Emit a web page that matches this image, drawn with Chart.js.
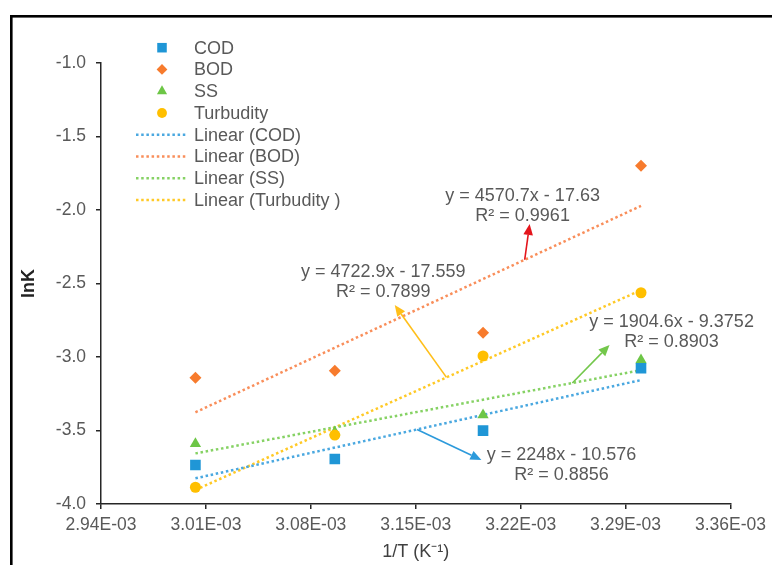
<!DOCTYPE html>
<html>
<head>
<meta charset="utf-8">
<script src="https://cdn.jsdelivr.net/npm/chart.js@4.4.0/dist/chart.umd.min.js"></script>
<style>
  html, body { margin: 0; padding: 0; background: #fff; }
  #wrap { width: 772px; height: 565px; }
</style>
</head>
<body>
<div id="wrap"><canvas id="grafico" width="772" height="565"></canvas></div>
<script>
// 1/T for 60, 50, 40 and 30 °C
var invT = [3.0030e-3, 3.0960e-3, 3.1949e-3, 3.3003e-3];

// lnK per parameter
var cod = [-3.735, -3.694, -3.501, -3.077];
var bod = [-3.141, -3.093, -2.835, -1.699];
var ss = [-3.590, -3.510, -3.395, -3.020];
var turbidity = [-3.886, -3.531, -2.993, -2.563];

var seriesNames = ["COD", "BOD", "SS", "Turbudity"];
var trendNames = ["Linear (COD)", "Linear (BOD)", "Linear (SS)", "Linear (Turbudity )"];

// linear trendlines y = a*x + b
var fitSlope = [2248, 4722.9, 1904.6, 4570.7];
var fitIntercept = [-10.576, -17.559, -9.3752, -17.63];

var xTickValues = [2.94e-3, 3.01e-3, 3.08e-3, 3.15e-3, 3.22e-3, 3.29e-3, 3.36e-3];
var xTickLabels = ["2.94E-03", "3.01E-03", "3.08E-03", "3.15E-03", "3.22E-03", "3.29E-03", "3.36E-03"];
var yTickValues = [-4.0, -3.5, -3.0, -2.5, -2.0, -1.5, -1.0];
var yTickLabels = ["-4.0", "-3.5", "-3.0", "-2.5", "-2.0", "-1.5", "-1.0"];

var markerColors = ["#1F96D6", "#F77B2D", "#6DC646", "#FFBF00"];
var trendColors = ["#4AA8E0", "#F98E5A", "#86D264", "#FFC926"];
var markerStyles = ["rect", "rectRot", "triangle", "circle"];
var markerSizes = [7.5, 6, 6.5, 5.5];
// SS sits underneath the other markers
var markerOrder = [0, 0, 1, 0];

// equation labels with their arrows (data coordinates)
var equations = [
  { lines: ["y = 2248x - 10.576", "R\u00b2 = 0.8856"], color: "#2C9ADB", fit: 0,
    fromX: 3.1509e-3, toX: 3.1938e-3, toY: -3.7007, textX: 3.2473e-3, textY: -3.6667 },
  { lines: ["y = 4570.7x - 17.63", "R\u00b2 = 0.9961"], color: "#E4151C", fit: 1,
    fromX: 3.2227e-3, toX: 3.2260e-3, toY: -2.0952, textX: 3.2213e-3, textY: -1.905 },
  { lines: ["y = 1904.6x - 9.3752", "R\u00b2 = 0.8903"], color: "#73C74B", fit: 2,
    fromX: 3.2545e-3, toX: 3.2793e-3, toY: -2.9184, textX: 3.3207e-3, textY: -2.7653 },
  { lines: ["y = 4722.9x - 17.559", "R\u00b2 = 0.7899"], color: "#FFBF1A", fit: 3,
    fromX: 3.1705e-3, toX: 3.1360e-3, toY: -2.6463, textX: 3.1283e-3, textY: -2.4238 }
];

var FONT = '"Liberation Sans", Arial, sans-serif';
var TEXT = "#595959";

function drawMarker(ctx, style, x, y, r, color) {
  ctx.fillStyle = color;
  ctx.beginPath();
  if (style === "rect") {
    var h = r * Math.SQRT1_2;
    ctx.rect(x - h, y - h, 2 * h, 2 * h);
  } else if (style === "rectRot") {
    ctx.moveTo(x, y - r); ctx.lineTo(x + r, y); ctx.lineTo(x, y + r); ctx.lineTo(x - r, y);
    ctx.closePath();
  } else if (style === "triangle") {
    ctx.moveTo(x, y - r);
    ctx.lineTo(x + r * Math.sin(Math.PI / 3), y + r / 2);
    ctx.lineTo(x - r * Math.sin(Math.PI / 3), y + r / 2);
    ctx.closePath();
  } else {
    ctx.arc(x, y, r, 0, Math.PI * 2);
  }
  ctx.fill();
}

document.addEventListener("DOMContentLoaded", function () {

  var allY = [cod, bod, ss, turbidity];
  var datasets = [];

  allY.forEach(function (vals, i) {
    datasets.push({
      label: seriesNames[i],
      data: invT.map(function (x, k) { return { x: x, y: vals[k] }; }),
      pointStyle: markerStyles[i],
      pointRadius: markerSizes[i],
      pointBackgroundColor: markerColors[i],
      pointBorderWidth: 0,
      showLine: false,
      order: markerOrder[i]
    });
  });

  allY.forEach(function (vals, i) {
    var x0 = invT[0], x1 = invT[invT.length - 1];
    datasets.push({
      label: trendNames[i],
      data: [
        { x: x0, y: fitSlope[i] * x0 + fitIntercept[i] },
        { x: x1, y: fitSlope[i] * x1 + fitIntercept[i] }
      ],
      showLine: true,
      pointRadius: 0,
      borderColor: trendColors[i],
      borderWidth: 2.5,
      borderDash: [2.5, 2.7],
      order: 5
    });
  });

  // outer frame of the figure
  var moldura = {
    id: "moldura",
    beforeDraw: function (chart) {
      var ctx = chart.ctx;
      ctx.save();
      ctx.fillStyle = "#fff";
      ctx.fillRect(0, 0, chart.width, chart.height);
      ctx.strokeStyle = "#000";
      ctx.lineWidth = 2.6;
      ctx.strokeRect(11.3, 16.3, chart.width + 40, chart.height + 40);
      ctx.restore();
    }
  };

  var legenda = {
    id: "legenda",
    afterDraw: function (chart) {
      var ctx = chart.ctx;
      ctx.save();
      ctx.font = "18px " + FONT;
      ctx.textBaseline = "middle";
      var y0 = 47.7, dy = 21.75;
      seriesNames.forEach(function (name, i) {
        var y = y0 + i * dy;
        drawMarker(ctx, markerStyles[i], 162, y, markerSizes[i] * 0.9, markerColors[i]);
        ctx.fillStyle = TEXT;
        ctx.fillText(name, 194, y + 1);
      });
      trendNames.forEach(function (name, i) {
        var y = y0 + (i + 4) * dy;
        ctx.strokeStyle = trendColors[i];
        ctx.lineWidth = 2.5;
        ctx.setLineDash([2.5, 2.7]);
        ctx.beginPath();
        ctx.moveTo(136, y);
        ctx.lineTo(187, y);
        ctx.stroke();
        ctx.setLineDash([]);
        ctx.fillStyle = TEXT;
        ctx.fillText(name, 194, y + 1);
      });
      ctx.restore();
    }
  };

  var equacoes = {
    id: "equacoes",
    afterDraw: function (chart) {
      var ctx = chart.ctx;
      var sx = chart.scales.x, sy = chart.scales.y;
      ctx.save();
      equations.forEach(function (eq) {
        var fromY = fitSlope[eq.fit] * eq.fromX + fitIntercept[eq.fit];
        var x1 = sx.getPixelForValue(eq.fromX), y1 = sy.getPixelForValue(fromY);
        var x2 = sx.getPixelForValue(eq.toX), y2 = sy.getPixelForValue(eq.toY);
        var ang = Math.atan2(y2 - y1, x2 - x1);
        var len = 11, half = 4.8;
        var bx = x2 - len * Math.cos(ang), by = y2 - len * Math.sin(ang);
        ctx.strokeStyle = eq.color;
        ctx.fillStyle = eq.color;
        ctx.lineWidth = 1.6;
        ctx.beginPath();
        ctx.moveTo(x1, y1);
        ctx.lineTo(bx, by);
        ctx.stroke();
        ctx.beginPath();
        ctx.moveTo(x2, y2);
        ctx.lineTo(bx + half * Math.sin(ang), by - half * Math.cos(ang));
        ctx.lineTo(bx - half * Math.sin(ang), by + half * Math.cos(ang));
        ctx.closePath();
        ctx.fill();

        ctx.font = "18px " + FONT;
        ctx.fillStyle = TEXT;
        ctx.textAlign = "center";
        ctx.textBaseline = "middle";
        var tx = sx.getPixelForValue(eq.textX), ty = sy.getPixelForValue(eq.textY);
        eq.lines.forEach(function (t, k) {
          ctx.fillText(t, tx, ty + k * 20);
        });
      });
      ctx.restore();
    }
  };

  var eixo = {
    drawOnChartArea: false,
    drawTicks: true,
    tickLength: 5,
    color: "#262626",
    lineWidth: 1.5
  };

  new Chart(document.getElementById("grafico").getContext("2d"), {
    type: "scatter",
    data: { datasets: datasets },
    plugins: [moldura, legenda, equacoes],
    options: {
      responsive: false,
      animation: false,
      layout: { padding: { top: 63, right: 41, left: 0, bottom: 0 } },
      plugins: {
        legend: { display: false },
        tooltip: { enabled: false }
      },
      scales: {
        x: {
          type: "linear",
          position: "bottom",
          min: 2.94e-3,
          max: 3.36e-3,
          afterBuildTicks: function (scale) {
            scale.ticks = xTickValues.map(function (v) { return { value: v }; });
          },
          afterFit: function (scale) { scale.height = 61; },
          grid: eixo,
          border: { display: true, color: "#262626", width: 1.5 },
          ticks: {
            autoSkip: false,
            maxRotation: 0,
            padding: 6,
            color: TEXT,
            font: { size: 17.5, family: FONT },
            callback: function (v, i) { return xTickLabels[i]; }
          },
          title: {
            display: true,
            text: "1/T (K\u207b\u00b9)",
            color: "#404040",
            font: { size: 18, family: FONT },
            padding: { top: 0, bottom: 2 }
          }
        },
        y: {
          type: "linear",
          min: -4,
          max: -1,
          afterBuildTicks: function (scale) {
            scale.ticks = yTickValues.map(function (v) { return { value: v }; });
          },
          afterFit: function (scale) { scale.width = 101; },
          grid: eixo,
          border: { display: true, color: "#262626", width: 1.5 },
          ticks: {
            padding: 10,
            color: TEXT,
            font: { size: 17.5, family: FONT },
            callback: function (v, i) { return yTickLabels[i]; }
          },
          title: {
            display: true,
            text: "lnK",
            color: "#222",
            font: { size: 18, weight: "bold", family: FONT },
            padding: { top: 18, bottom: 0 }
          }
        }
      }
    }
  });

});
</script>
</body>
</html>
